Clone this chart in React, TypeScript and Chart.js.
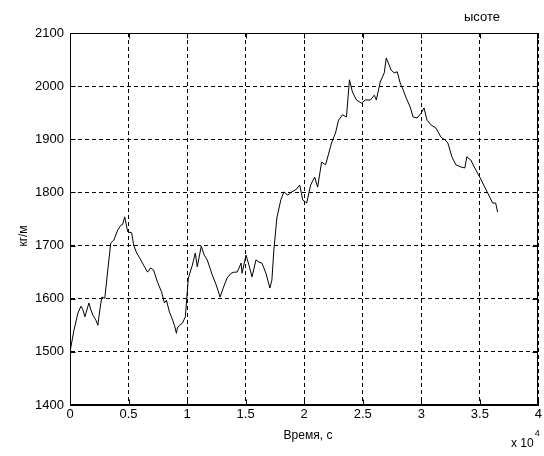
import React, { useEffect, useRef } from "react";
import { Chart, registerables } from "chart.js";

Chart.register(...registerables);

const times = [
  0, 340, 679, 934, 1104, 1274, 1614, 1784, 1953, 2208,
  2378, 2548, 2718, 2973, 3227, 3482, 3737, 4077, 4331, 4501,
  4671, 4926, 5266, 5436, 5690, 5945, 6285, 6625, 6879, 7134,
  7474, 7814, 8068, 8238, 8493, 8663, 8918, 9087, 9172, 9342,
  9597, 9852, 10107, 10446, 10701, 10871, 11211, 11466, 11720, 12145,
  12485, 12824, 13079, 13419, 13759, 14013, 14268, 14438, 14608, 14693,
  15033, 15287, 15542, 15882, 16137, 16391, 16731, 17071, 17241, 17411,
  17665, 18005, 18260, 18600, 18939, 19279, 19619, 19874, 20213, 20553,
  20893, 21148, 21487, 21827, 22337, 22676, 22931, 23271, 23611, 23865,
  24120, 24460, 24885, 25224, 25649, 25989, 26159, 26498, 26838, 27008,
  27432, 27687, 27942, 28197, 28452, 28706, 29046, 29301, 29641, 29980,
  30235, 30490, 30830, 31254, 31679, 32019, 32273, 32613, 32953, 33377,
  33717, 33887, 34227, 34567, 34991, 35416, 35671, 36095, 36350, 36520,
];

const density = [
  1500, 1541, 1573, 1586, 1579, 1566, 1592, 1579, 1569, 1560,
  1550, 1579, 1603, 1601, 1654, 1705, 1710, 1729, 1738, 1740,
  1754, 1726, 1724, 1701, 1686, 1677, 1663, 1650, 1658, 1654,
  1631, 1613, 1592, 1597, 1575, 1566, 1550, 1535, 1545, 1550,
  1554, 1566, 1639, 1663, 1686, 1660, 1699, 1682, 1673, 1645,
  1626, 1603, 1620, 1639, 1648, 1650, 1650, 1658, 1667, 1648,
  1682, 1663, 1641, 1673, 1669, 1667, 1648, 1620, 1635, 1692,
  1752, 1786, 1801, 1795, 1801, 1805, 1814, 1786, 1780, 1814,
  1829, 1810, 1857, 1852, 1893, 1912, 1936, 1946, 1942, 2012,
  1989, 1974, 1968, 1974, 1974, 1983, 1974, 2008, 2025, 2053,
  2030, 2025, 2027, 2006, 1993, 1978, 1961, 1942, 1940, 1949,
  1959, 1936, 1927, 1921, 1904, 1899, 1893, 1867, 1852, 1848,
  1846, 1867, 1861, 1846, 1829, 1810, 1799, 1780, 1780, 1763,
];

const xMin = 0;
const xMax = 40000;
const xStep = 5000;
const yMin = 1400;
const yMax = 2100;
const yStep = 100;

const titleText = "ысоте";
const xTitle = "Время, с";
const yTitle = "кг/м";
const xExponentBase = "x 10";
const xExponent = "4";

const FONT = "'Liberation Sans', Arial, sans-serif";

const framePlugin = {
  id: "matlabFrame",
  afterDraw(chart: any) {
    const { ctx, chartArea: a, scales } = chart;
    ctx.save();
    ctx.strokeStyle = "#000";
    ctx.lineWidth = 1;
    ctx.setLineDash([]);
    const L = Math.round(a.left) + 0.5;
    const R = Math.round(a.right) - 0.5;
    const T = Math.round(a.top) + 0.5;
    const B = Math.round(a.bottom) - 0.5;
    ctx.strokeRect(L, T, R - L, B - T);
    const tl = 5;
    ctx.beginPath();
    scales.x.ticks.forEach((t: any) => {
      const px = Math.round(scales.x.getPixelForValue(t.value)) + 0.5;
      ctx.moveTo(px, B);
      ctx.lineTo(px, B - tl);
      ctx.moveTo(px, T);
      ctx.lineTo(px, T + tl);
    });
    scales.y.ticks.forEach((t: any) => {
      const py = Math.round(scales.y.getPixelForValue(t.value)) + 0.5;
      ctx.moveTo(L, py);
      ctx.lineTo(L + tl, py);
      ctx.moveTo(R, py);
      ctx.lineTo(R - tl, py);
    });
    ctx.stroke();

    ctx.fillStyle = "#000";
    ctx.textBaseline = "middle";
    ctx.font = `13px ${FONT}`;
    ctx.textAlign = "center";
    ctx.fillText(titleText, 482, 17);

    ctx.font = `12px ${FONT}`;
    ctx.fillText(xTitle, 308, 436);

    ctx.save();
    ctx.translate(24, 236);
    ctx.rotate(-Math.PI / 2);
    ctx.fillText(yTitle, 0, 0);
    ctx.restore();

    ctx.textAlign = "left";
    ctx.font = `12px ${FONT}`;
    ctx.fillText(xExponentBase, 511, 444);
    const w = ctx.measureText(xExponentBase).width;
    ctx.font = `9px ${FONT}`;
    ctx.fillText(xExponent, 511 + w + 1, 434);
    ctx.restore();
  },
};

export default function App() {
  const ref = useRef<HTMLCanvasElement | null>(null);

  useEffect(() => {
    if (!ref.current) return;
    const points = times.map((t, i) => ({ x: t, y: density[i] }));
    const chart = new Chart(ref.current, {
      type: "line",
      data: {
        datasets: [
          {
            data: points,
            borderColor: "#000",
            borderWidth: 1,
            pointRadius: 0,
            tension: 0,
            fill: false,
          },
        ],
      },
      options: {
        animation: false,
        responsive: false,
        maintainAspectRatio: false,
        layout: { padding: { left: 0, right: 3, top: 33, bottom: 0 } },
        plugins: {
          legend: { display: false },
          tooltip: { enabled: false },
          title: { display: false },
        },
        scales: {
          x: {
            type: "linear",
            min: xMin,
            max: xMax,
            ticks: {
              stepSize: xStep,
              color: "#000",
              font: { family: FONT, size: 13 },
              padding: 2,
              maxRotation: 0,
              callback: (v: any) => String(Number(v) / 10000),
            },
            grid: {
              color: "#000",
              lineWidth: 1,
              drawTicks: false,
            },
            border: { display: true, color: "#000", dash: [4, 3] },
            afterFit: (s: any) => {
              s.height = 51;
            },
          },
          y: {
            type: "linear",
            min: yMin,
            max: yMax,
            ticks: {
              stepSize: yStep,
              color: "#000",
              font: { family: FONT, size: 13 },
              padding: 6,
              callback: (v: any) => String(v),
            },
            grid: {
              color: "#000",
              lineWidth: 1,
              drawTicks: false,
            },
            border: { display: true, color: "#000", dash: [4, 3] },
            afterFit: (s: any) => {
              s.width = 70;
            },
          },
        },
      },
      plugins: [framePlugin],
    });
    return () => chart.destroy();
  }, []);

  return (
    <div
      style={{
        position: "fixed",
        left: 0,
        top: 0,
        width: 544,
        height: 456,
        background: "#fff",
      }}
    >
      <canvas ref={ref} width={544} height={456} style={{ display: "block" }} />
    </div>
  );
}
